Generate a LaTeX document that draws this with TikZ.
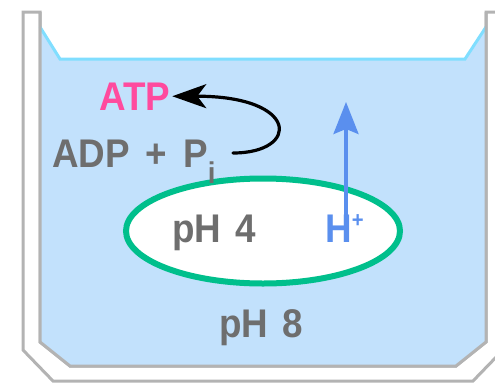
\documentclass[tikz,border=0pt]{standalone}
\usepackage{fontspec}
\usetikzlibrary{arrows.meta,shapes.geometric}
\newfontfamily\handfont[FakeStretch=0.92]{Liberation Sans}
\definecolor{wallgray}{HTML}{B3B3B3}
\definecolor{water}{HTML}{C2E1FC}
\definecolor{surface}{HTML}{80DEFF}
\definecolor{membrane}{HTML}{00BF8C}
\definecolor{labelgray}{HTML}{6E6E6E}
\definecolor{atppink}{HTML}{FF4A9E}
\definecolor{protonblue}{HTML}{5A8FEE}
\tikzset{
  label text/.style={font=\handfont\bfseries\fontsize{40}{42}\selectfont, inner sep=0pt, anchor=base west, text=labelgray},
  wall/.style={draw=wallgray, line width=3pt, line join=miter, fill=white},
  flow/.style={line width=3.2pt, line cap=round},
}
\begin{document}
\begin{tikzpicture}[x=1pt, y=-1pt]
  \useasboundingbox (0,0) rectangle (495,383);
  \begin{scope}
    \clip (0,0) rectangle (495,383);
    % beaker glass (double wall, open at the top)
    \draw[wall] (23,12) -- (23,350) -- (53,381) -- (473,381) -- (503,350) -- (503,12)
      -- (486,12) -- (486,342) -- (456,366) -- (70,366) -- (40,342) -- (40,12) -- cycle;
    % water body
    \fill[water] (40,27) -- (60,59) -- (465,59) -- (486,27) -- (486,342)
      -- (456,366) -- (70,366) -- (40,342) -- cycle;
    \draw[surface, line width=3pt, line join=miter] (40,27) -- (60,59) -- (465,59) -- (486,27);
    % inner glass outline redrawn over the water
    \draw[wallgray, line width=3pt, line join=miter] (40,12) -- (40,342) -- (70,366) -- (456,366) -- (486,342) -- (486,12);
  \end{scope}

  % vesicle membrane
  \node[ellipse, draw=membrane, fill=white, line width=6pt,
        minimum width=274pt, minimum height=105pt] (vesicle) at (263,231) {};

  % labels
  \node[label text, text=atppink, inner sep=2pt] (atp) at (97,110) {ATP};
  \node[label text] (adp) at (52,167)
    {ADP\hspace{16pt}+\hspace{16pt}P\raisebox{-16pt}{\fontsize{30}{30}\selectfont i}};
  \node[label text] (inside) at (172,242) {pH\hspace{14pt}4};
  \node[label text] (outside) at (219,337) {pH\hspace{14pt}8};
  \node[label text, text=protonblue] (hp) at (325,242)
    {H\raisebox{15pt}{\fontsize{22}{22}\selectfont +}};

  % ATP synthesis arrow
  \coordinate (loopstart) at (233,153);
  \draw[flow, -{Stealth[length=34pt, width=24pt, inset=9pt]}]
    (loopstart) .. controls (300,153) and (300,96) .. (atp.east);

  % proton efflux arrow, rising straight out of the vesicle
  \coordinate (htop) at (346,102);
  \draw[flow, protonblue, line cap=butt, shorten <=-8pt,
        -{Stealth[length=32pt, width=25pt, inset=5pt]}] (hp.north -| htop) -- (htop);
\end{tikzpicture}
\end{document}
